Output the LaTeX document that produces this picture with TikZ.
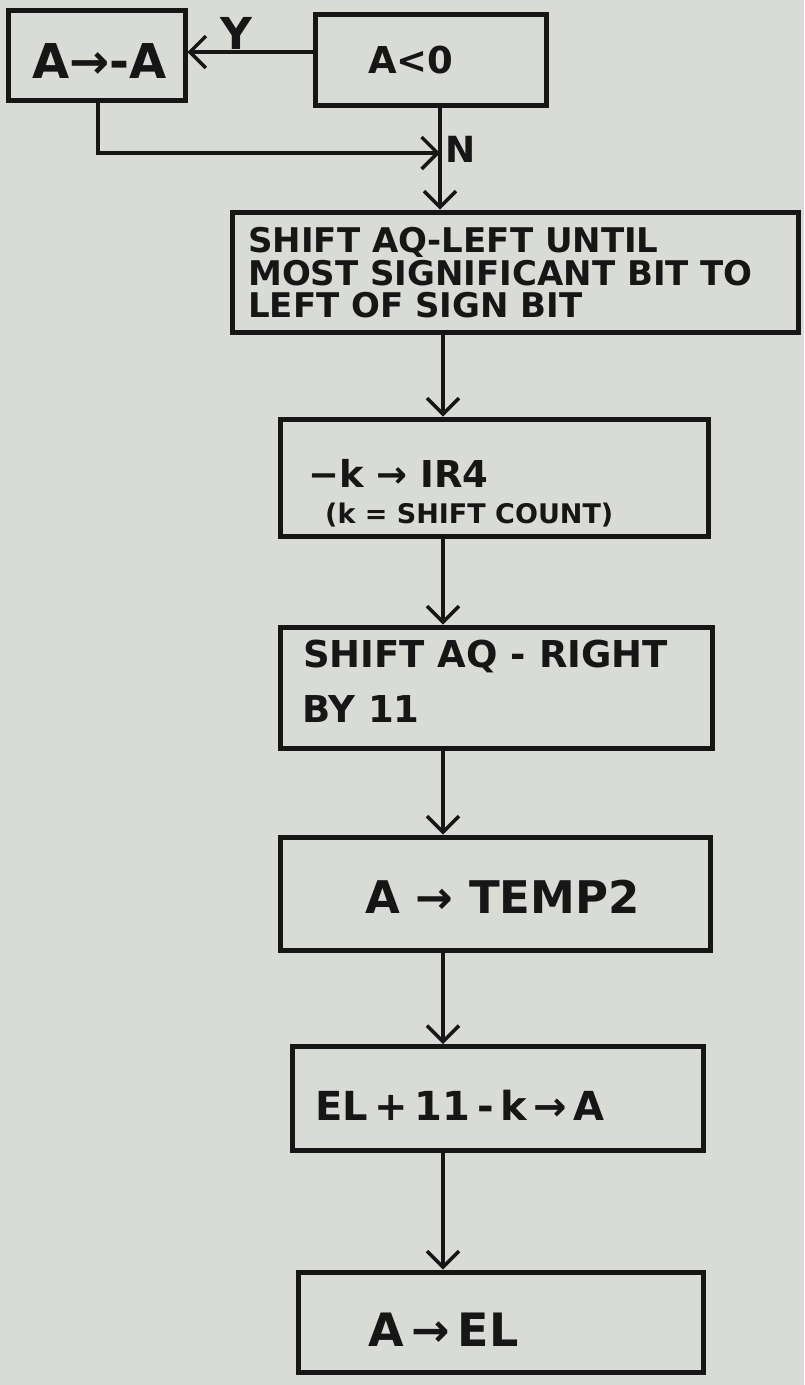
\documentclass[tikz,border=0pt]{standalone}
\usepackage{fontspec}
\setmainfont{DejaVu Sans}
\usetikzlibrary{arrows.meta}
\definecolor{paper}{RGB}{217,219,214}
\definecolor{ink}{RGB}{22,22,22}
\begin{document}
\begin{tikzpicture}[x=1pt,y=-1pt,
  box/.style={draw=ink, line width=5pt, rectangle, inner sep=0pt},
  conn/.style={draw=ink, line width=3.5pt},
  arr/.style={conn, -{Straight Barb[length=16pt,width=32pt]}},
  txt/.style={inner sep=0pt, anchor=base west, text=ink, font=\bfseries\fontsize{#1}{#1}\selectfont},
  lab/.style={inner sep=0pt, anchor=base, text=ink, font=\bfseries\fontsize{#1}{#1}\selectfont},
  ]
\useasboundingbox (0,0) rectangle (804,1385);
\fill[paper] (0,0) rectangle (804,1385);

% boxes
\node[box, minimum width=177pt, minimum height=90pt]  (neg)  at (96.5,55)   {};
\node[box, minimum width=231pt, minimum height=91pt]  (cond) at (430.5,59.5){};
\node[box, minimum width=566pt, minimum height=120pt] (s1)   at (515,272)   {};
\node[box, minimum width=428pt, minimum height=117pt] (s2)   at (494,477.5) {};
\node[box, minimum width=432pt, minimum height=121pt] (s3)   at (496,687.5) {};
\node[box, minimum width=430pt, minimum height=113pt] (s4)   at (495,893.5) {};
\node[box, minimum width=411pt, minimum height=104pt] (s5)   at (497.5,1098.5){};
\node[box, minimum width=405pt, minimum height=100pt] (s6)   at (500.5,1322){};

% helper coordinates
\coordinate (yline) at (0,52);
\coordinate (lx) at (98,0);
\coordinate (vtop) at (440,0);
\coordinate (vx) at (443,0);
\coordinate (j) at (440,153);

% connectors
\draw[arr] (cond.west |- yline) -- (neg.east |- yline);
\draw[conn] (cond.south -| vtop) -- (j);
\draw[arr] (neg.south -| lx) |- (j);
\draw[arr] (j) -- (s1.north -| vtop);
\draw[arr] (s1.south -| vx) -- (s2.north -| vx);
\draw[arr] (s2.south -| vx) -- (s3.north -| vx);
\draw[arr] (s3.south -| vx) -- (s4.north -| vx);
\draw[arr] (s4.south -| vx) -- (s5.north -| vx);
\draw[arr] (s5.south -| vx) -- (s6.north -| vx);

% labels on connectors
\node[lab=44] (ylab) at (236,49) {Y};
\node[lab=36] (nlab) at (461,162) {N};

% texts
\node[txt=48] (tneg)  at (32,78)   {A→-A};
\node[txt=37] (tcond) at (368,73)  {A<0};
\node[txt=34] (t1a) at (248,252) {SHIFT AQ-LEFT UNTIL};
\node[txt=34] (t1b) at (248,285) {MOST SIGNIFICANT BIT TO};
\node[txt=34] (t1c) at (248,317) {LEFT OF SIGN BIT};
\node[txt=37] (t2a) at (308,487) {−k → IR4};
\node[txt=27] (t2b) at (325,523) {(k = SHIFT COUNT)};
\node[txt=37] (t3a) at (303,667) {SHIFT AQ - RIGHT};
\node[txt=37] (t3b) at (302,722) {BY 11};
\node[txt=45] (t4)  at (365,913) {A → TEMP2};
\node[txt=40] (t5)  at (315,1120) {EL\,+\,11\,-\,k\,→\,A};
\node[txt=46] (t6)  at (368,1346) {A\,→\,EL};
\end{tikzpicture}
\end{document}
